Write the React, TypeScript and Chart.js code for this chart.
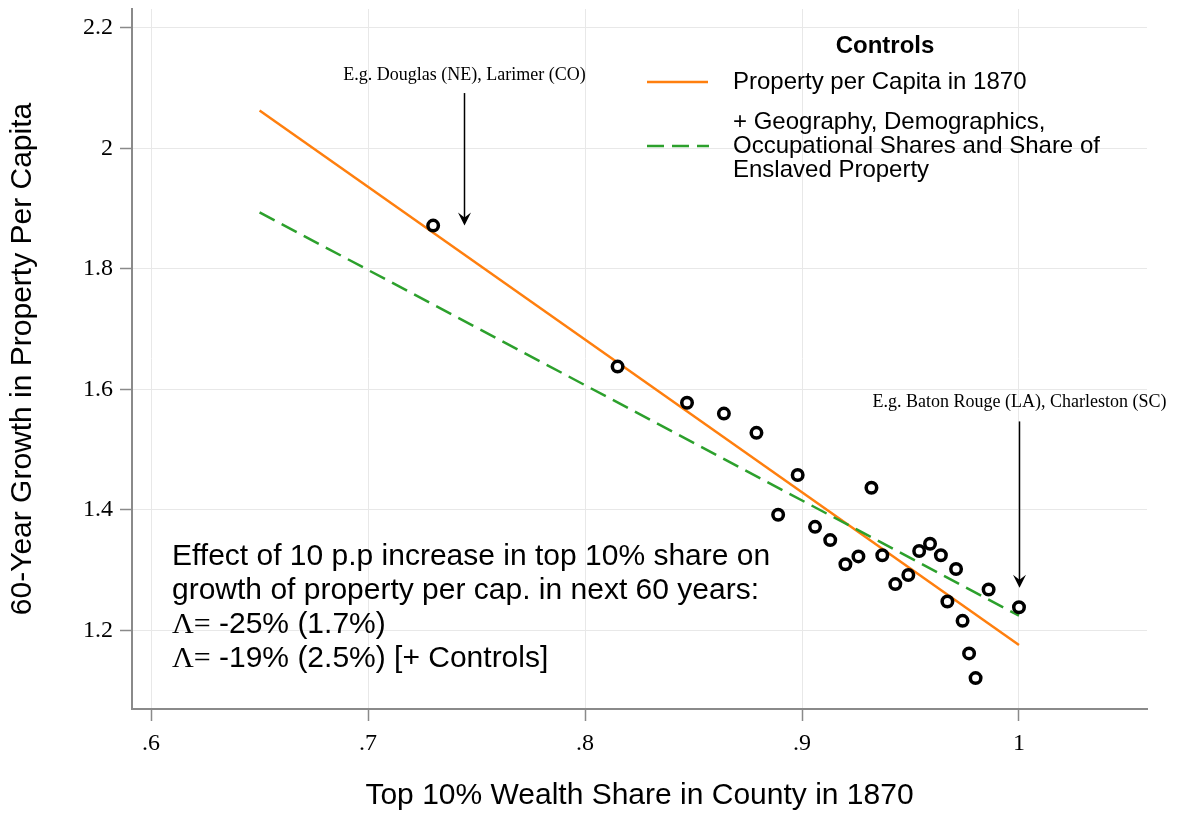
import React, { useEffect, useRef } from "react";
import { Chart, registerables } from "chart.js";

Chart.register(...registerables);

// Top 10% wealth share in county, 1870 (binned)
const shareX = [
  0.730, 0.815, 0.847, 0.864, 0.879, 0.898, 0.889, 0.906, 0.913, 0.920,
  0.926, 0.932, 0.937, 0.943, 0.949, 0.954, 0.959, 0.964, 0.971, 0.967,
  0.974, 0.977, 0.980, 0.986, 1.000,
];
// 60-year growth in property per capita (binned)
const growthY = [
  1.872, 1.638, 1.578, 1.560, 1.528, 1.458, 1.392, 1.372, 1.350, 1.310,
  1.323, 1.437, 1.325, 1.277, 1.292, 1.332, 1.344, 1.325, 1.302, 1.248,
  1.216, 1.162, 1.121, 1.268, 1.2385,
];

// fitted lines
const fitX = [0.65, 1.0];
const fitBaseY = [2.063, 1.176];
const fitControlsY = [1.894, 1.2246];

const xTickValues = [0.6, 0.7, 0.8, 0.9, 1.0];
const xTickLabels = [".6", ".7", ".8", ".9", "1"];
const yTickValues = [1.2, 1.4, 1.6, 1.8, 2.0, 2.2];
const yTickLabels = ["1.2", "1.4", "1.6", "1.8", "2", "2.2"];

const legendTitle = "Controls";
const legendBaseLabel = ["Property per Capita in 1870"];
const legendControlsLabel = [
  "+ Geography, Demographics,",
  "Occupational Shares and Share of",
  "Enslaved Property",
];

const arrowNotes = [
  { text: "E.g. Douglas (NE), Larimer (CO)", x: 0.7442, textY: 2.121, fromY: 2.092, toY: 1.872 },
  { text: "E.g. Baton Rouge (LA), Charleston (SC)", x: 1.0, textY: 1.578, fromY: 1.547, toY: 1.271 },
];

const effectText = [
  "Effect of 10 p.p increase in top 10% share on",
  "growth of property per cap. in next 60 years:",
];
const effectEstimates = [" -25% (1.7%)", " -19% (2.5%) [+ Controls]"];

const ORANGE = "#ff7f0e";
const GREEN = "#2ca02c";
const SANS = '"Liberation Sans", Arial, sans-serif';
const SERIF = '"Liberation Serif", "Times New Roman", serif';

const annotationPlugin = {
  id: "annotations",
  afterDatasetsDraw(chart: any) {
    const { ctx, scales, chartArea } = chart;
    const xs = scales.x;
    const ys = scales.y;
    ctx.save();

    // arrows with labels
    for (const a of arrowNotes) {
      const px = Math.round(xs.getPixelForValue(a.x)) + 0.5;
      ctx.font = `18px ${SERIF}`;
      ctx.fillStyle = "#000";
      ctx.textAlign = "center";
      ctx.textBaseline = "middle";
      ctx.fillText(a.text, px, ys.getPixelForValue(a.textY));
      const y0 = ys.getPixelForValue(a.fromY);
      const y1 = ys.getPixelForValue(a.toY);
      ctx.strokeStyle = "#000";
      ctx.lineWidth = 1.5;
      ctx.beginPath();
      ctx.moveTo(px, y0);
      ctx.lineTo(px, y1 - 6);
      ctx.stroke();
      ctx.beginPath();
      ctx.moveTo(px, y1);
      ctx.lineTo(px - 6.5, y1 - 13);
      ctx.lineTo(px, y1 - 8);
      ctx.lineTo(px + 6.5, y1 - 13);
      ctx.closePath();
      ctx.fill();
    }

    // legend
    const L = chartArea.left;
    const T = chartArea.top;
    ctx.fillStyle = "#000";
    ctx.textAlign = "center";
    ctx.textBaseline = "middle";
    ctx.font = `bold 24px ${SANS}`;
    ctx.fillText(legendTitle, L + 753, T + 37);

    ctx.lineWidth = 2.5;
    ctx.strokeStyle = ORANGE;
    ctx.setLineDash([]);
    ctx.beginPath();
    ctx.moveTo(L + 515, T + 73);
    ctx.lineTo(L + 576, T + 73);
    ctx.stroke();

    ctx.strokeStyle = GREEN;
    ctx.setLineDash([17, 8]);
    ctx.beginPath();
    ctx.moveTo(L + 515, T + 137);
    ctx.lineTo(L + 577, T + 137);
    ctx.stroke();
    ctx.setLineDash([]);

    ctx.font = `24px ${SANS}`;
    ctx.textAlign = "left";
    legendBaseLabel.forEach((s, i) => ctx.fillText(s, L + 601, T + 73 + i * 24));
    legendControlsLabel.forEach((s, i) => ctx.fillText(s, L + 601, T + 113 + i * 24));

    // effect text block
    const bx = L + 40;
    const by = T + 548;
    ctx.font = `30px ${SANS}`;
    effectText.forEach((s, i) => ctx.fillText(s, bx, by + i * 34));
    effectEstimates.forEach((s, i) => {
      const yy = by + (i + 2) * 34;
      ctx.font = `30px ${SERIF}`;
      const lam = "\u039B=";
      ctx.fillText(lam, bx, yy);
      const w = ctx.measureText(lam).width;
      ctx.font = `30px ${SANS}`;
      ctx.fillText(s, bx + w, yy);
    });

    ctx.restore();
  },
};

const zeroPad = (s: any) => {
  s.paddingTop = 0;
  s.paddingBottom = 0;
  s.paddingLeft = 0;
  s.paddingRight = 0;
};

export default function App() {
  const canvasRef = useRef<HTMLCanvasElement | null>(null);

  useEffect(() => {
    if (!canvasRef.current) return;
    const pts = shareX.map((x, i) => ({ x, y: growthY[i] }));
    const base = fitX.map((x, i) => ({ x, y: fitBaseY[i] }));
    const ctrl = fitX.map((x, i) => ({ x, y: fitControlsY[i] }));

    const chart = new Chart(canvasRef.current, {
      type: "scatter",
      data: {
        datasets: [
          {
            label: "bins",
            data: pts,
            pointRadius: 5.25,
            pointBorderWidth: 3.5,
            pointBorderColor: "#000",
            pointBackgroundColor: "#fff",
            order: 0,
          },
          {
            type: "line",
            label: legendBaseLabel[0],
            data: base,
            borderColor: ORANGE,
            borderWidth: 2.5,
            pointRadius: 0,
            showLine: true,
            fill: false,
            order: 2,
          },
          {
            type: "line",
            label: legendControlsLabel.join(" "),
            data: ctrl,
            borderColor: GREEN,
            borderWidth: 2.5,
            borderDash: [17, 8],
            pointRadius: 0,
            showLine: true,
            fill: false,
            order: 1,
          },
        ],
      } as any,
      options: {
        animation: false,
        responsive: false,
        devicePixelRatio: 1,
        layout: { padding: { top: 9, right: 30, left: 0, bottom: 0 } },
        plugins: {
          legend: { display: false },
          tooltip: { enabled: false },
        },
        scales: {
          x: {
            type: "linear",
            min: 0.5912,
            max: 1.059,
            afterBuildTicks: (s: any) => {
              s.ticks = xTickValues.map((v) => ({ value: v }));
            },
            afterFit: (s: any) => {
              s.height = 107;
              zeroPad(s);
            },
            ticks: {
              callback: (_v: any, i: number) => xTickLabels[i],
              font: { family: SERIF, size: 24 },
              color: "#000",
              padding: 8,
              maxRotation: 0,
            },
            grid: {
              color: "#e8e8e8",
              lineWidth: 1,
              tickColor: "#8a8a8a",
              tickLength: 12,
              tickWidth: 1.5,
            },
            border: { display: true, color: "#8a8a8a", width: 2 },
            title: {
              display: true,
              text: "Top 10% Wealth Share in County in 1870",
              font: { family: SANS, size: 30 },
              color: "#000",
              padding: { top: 0, bottom: 2 },
            },
          },
          y: {
            type: "linear",
            min: 1.0697,
            max: 2.2315,
            afterBuildTicks: (s: any) => {
              s.ticks = yTickValues.map((v) => ({ value: v }));
            },
            afterFit: (s: any) => {
              s.width = 132;
              zeroPad(s);
            },
            ticks: {
              callback: (_v: any, i: number) => yTickLabels[i],
              font: { family: SERIF, size: 24 },
              color: "#000",
              padding: 7,
            },
            grid: {
              color: "#e8e8e8",
              lineWidth: 1,
              tickColor: "#8a8a8a",
              tickLength: 12,
              tickWidth: 1.5,
            },
            border: { display: true, color: "#8a8a8a", width: 2 },
            title: {
              display: true,
              text: "60-Year Growth in Property Per Capita",
              font: { family: SANS, size: 30 },
              color: "#000",
              padding: { top: 5, bottom: 0 },
            },
          },
        },
      } as any,
      plugins: [annotationPlugin],
    });
    return () => chart.destroy();
  }, []);

  return (
    <div style={{ position: "absolute", left: 0, top: 0, width: 1177, height: 816, background: "#fff" }}>
      <canvas ref={canvasRef} width={1177} height={816} style={{ width: 1177, height: 816, display: "block" }} />
    </div>
  );
}
